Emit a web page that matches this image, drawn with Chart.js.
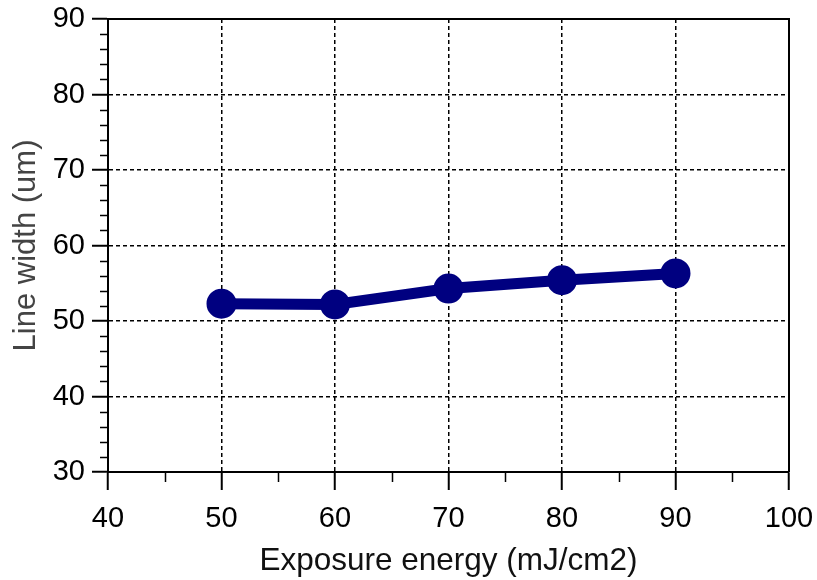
<!DOCTYPE html>
<html>
<head>
<meta charset="utf-8">
<script src="https://cdn.jsdelivr.net/npm/chart.js@4/dist/chart.umd.min.js"></script>
<style>
  html, body { margin: 0; padding: 0; background: #fff; }
  #wrap { width: 817px; height: 580px; position: relative; }
</style>
</head>
<body>
<div id="wrap"><canvas id="lineChart"></canvas></div>
<script>
// Data
const energies = [50, 60, 70, 80, 90];
const lineWidths = [52.3, 52.2, 54.3, 55.4, 56.3];
const xTicks = [40, 50, 60, 70, 80, 90, 100];
const yTicks = [30, 40, 50, 60, 70, 80, 90];
const xMinorTicks = [45, 55, 65, 75, 85, 95];
const yMinorTicks = [32, 34, 36, 38, 42, 44, 46, 48, 52, 54, 56, 58, 62, 64, 66, 68, 72, 74, 76, 78, 82, 84, 86, 88];

const navy = '#000080';
const fontFamily = '"Liberation Sans", Arial, sans-serif';

// Minor ticks + frame on top/right
const framePlugin = {
    id: 'frame',
    afterDraw(chart) {
        const ctx = chart.ctx;
        const a = chart.chartArea;
        const xs = chart.scales.x, ys = chart.scales.y;
        ctx.save();
        ctx.strokeStyle = '#000';
        ctx.lineWidth = 2;
        ctx.beginPath();
        ctx.moveTo(a.left, a.top);
        ctx.lineTo(a.right, a.top);
        ctx.lineTo(a.right, a.bottom);
        ctx.stroke();
        ctx.lineWidth = 1.5;
        ctx.beginPath();
        xMinorTicks.forEach(function(v) {
            const px = Math.round(xs.getPixelForValue(v)) + 0.5;
            ctx.moveTo(px, a.bottom);
            ctx.lineTo(px, a.bottom + 10);
        });
        yMinorTicks.forEach(function(v) {
            const py = Math.round(ys.getPixelForValue(v)) + 0.5;
            ctx.moveTo(a.left, py);
            ctx.lineTo(a.left - 8, py);
        });
        ctx.stroke();
        ctx.restore();
    }
};

new Chart(document.getElementById('lineChart').getContext('2d'), {
    type: 'line',
    data: {
        datasets: [{
            label: 'Line width',
            data: energies.map(function(e, i) { return { x: e, y: lineWidths[i] }; }),
            borderColor: navy,
            backgroundColor: navy,
            borderWidth: 11,
            pointRadius: 14,
            pointBorderWidth: 2,
            pointBorderColor: navy,
            pointBackgroundColor: navy,
            tension: 0
        }]
    },
    options: {
        responsive: true,
        maintainAspectRatio: false,
        animation: false,
        layout: { padding: { left: 0, right: 28, top: 19, bottom: 0 } },
        plugins: {
            legend: { display: false },
            tooltip: { enabled: false }
        },
        scales: {
            x: {
                type: 'linear',
                min: 40,
                max: 100,
                afterBuildTicks: function(scale) { scale.ticks = xTicks.map(function(v) { return { value: v }; }); },
                afterFit: function(scale) {
                    scale.height = 108;
                    scale.paddingLeft = 0;
                    scale.paddingRight = 0;
                },
                border: { color: '#000', width: 2, dash: [4, 3] },
                grid: {
                    color: '#000',
                    lineWidth: 1.5,
                    tickLength: 18,
                    tickColor: '#000',
                    tickWidth: 2,
                    tickBorderDash: []
                },
                ticks: {
                    color: '#000',
                    padding: 14,
                    maxRotation: 0,
                    font: { family: fontFamily, size: 29, lineHeight: 1 }
                },
                title: {
                    display: true,
                    text: 'Exposure energy (mJ/cm2)',
                    color: '#111',
                    font: { family: fontFamily, size: 31.5 },
                    padding: { top: 0, bottom: 0 }
                }
            },
            y: {
                type: 'linear',
                min: 30,
                max: 90,
                afterBuildTicks: function(scale) { scale.ticks = yTicks.map(function(v) { return { value: v }; }); },
                afterFit: function(scale) {
                    scale.width = 108;
                    scale.paddingTop = 0;
                    scale.paddingBottom = 0;
                },
                border: { color: '#000', width: 2, dash: [4, 3] },
                grid: {
                    color: '#000',
                    lineWidth: 1.5,
                    tickLength: 16,
                    tickColor: '#000',
                    tickWidth: 2,
                    tickBorderDash: []
                },
                ticks: {
                    color: '#000',
                    padding: 7,
                    font: { family: fontFamily, size: 29, lineHeight: 1 }
                },
                title: {
                    display: true,
                    text: 'Line width (um)',
                    color: '#444',
                    font: { family: fontFamily, size: 31 },
                    padding: { top: 8, bottom: 0 }
                }
            }
        }
    },
    plugins: [framePlugin]
});
</script>
</body>
</html>
